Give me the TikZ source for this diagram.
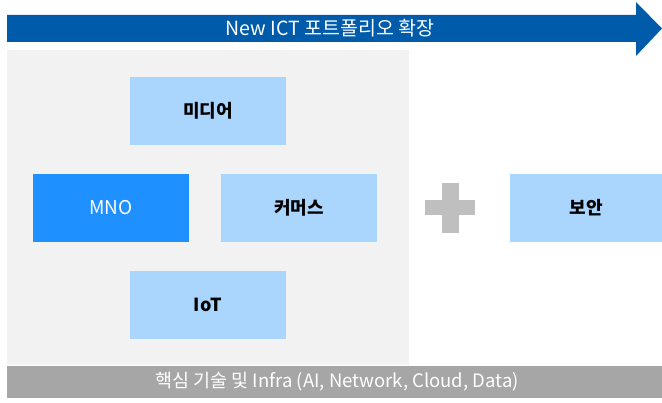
\documentclass[tikz,border=0pt]{standalone}
\usepackage{fontspec}
\setmainfont{Noto Sans CJK KR}
\newfontfamily\kr{Noto Sans CJK KR}
\definecolor{arrowblue}{RGB}{0,91,170}
\definecolor{mnoblue}{RGB}{30,144,255}
\definecolor{lightblue}{RGB}{170,213,252}
\definecolor{panelgray}{RGB}{242,242,242}
\definecolor{bargray}{RGB}{166,166,166}
\definecolor{plusgray}{RGB}{191,191,191}
\begin{document}
\begin{tikzpicture}[x=1pt,y=-1pt,
  biz/.style={fill=lightblue, draw=none, minimum width=156pt, minimum height=68pt,
    inner sep=0pt, font=\kr\fontsize{18}{21}\selectfont\bfseries, text=black},
  core/.style={biz, fill=mnoblue, text=white, font=\kr\fontsize{19}{22}\selectfont}]
\useasboundingbox (0,0) rectangle (662,403);
\fill[white] (0,0) rectangle (662,403);

% portfolio expansion arrow
\fill[arrowblue] (7,15) -- (636,15) -- (636,2) -- (662,28.5) -- (636,56) -- (636,42) -- (7,42) -- cycle;
\node[text=white, font=\kr\fontsize{19.5}{22}\selectfont] (title) at (330,28.5) {New ICT 포트폴리오 확장};

% business area panel
\fill[panelgray] (7,50) rectangle (409,365);

\node[biz] (media) at (208,111) {미디어};
\node[core] (mno) at (111,208) {MNO};
\node[biz] (commerce) at (299,208) {커머스};
\node[biz] (iot) at (208,305) {IoT};

% plus sign
\fill[plusgray] (425,200) rectangle (475,215);
\fill[plusgray] (442,183) rectangle (459,233);

\node[biz, minimum width=152pt] (security) at (586,208) {보안};

% infrastructure bar
\fill[bargray] (7,366) rectangle (662,398);
\node[text=white, font=\kr\fontsize{18.5}{21}\selectfont] (infra) at (337,382) {핵심 기술 및 Infra (AI, Network, Cloud, Data)};
\end{tikzpicture}
\end{document}
